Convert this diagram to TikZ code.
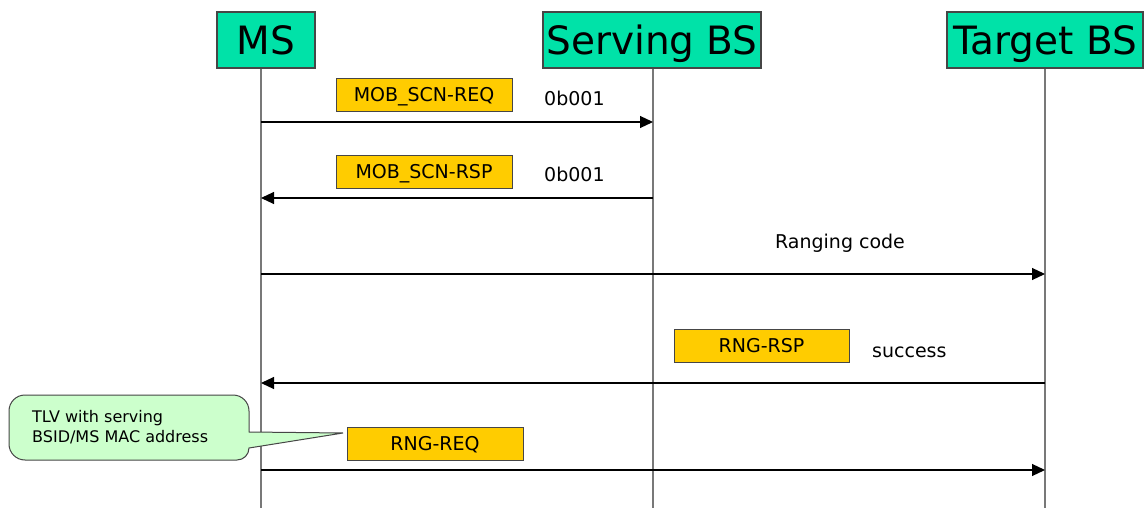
\documentclass[tikz,border=0pt]{standalone}
\usepackage{fontspec}
\setmainfont{DejaVu Sans}
\usetikzlibrary{arrows.meta}
\definecolor{hdr}{RGB}{0,226,168}
\definecolor{ylw}{RGB}{255,204,0}
\definecolor{notefill}{RGB}{204,255,204}
\definecolor{lgray}{RGB}{120,120,120}
\definecolor{bord}{RGB}{70,70,70}
\begin{document}
\begin{tikzpicture}[x=1pt,y=-1pt,
  hdrbox/.style={draw=bord,line width=1.2pt,fill=hdr,inner sep=0pt,
    font=\fontsize{39}{44}\selectfont,text height=29pt,text depth=0pt,minimum height=56pt},
  msgbox/.style={draw=bord,line width=0.9pt,fill=ylw,inner sep=0pt,
    font=\fontsize{19}{23}\selectfont,text height=14pt,text depth=0pt,
    minimum width=176pt,minimum height=33pt},
  lbl/.style={font=\fontsize{19}{23}\selectfont,inner sep=0pt},
  life/.style={draw=lgray,line width=1.4pt},
  msg/.style={draw=black,line width=1.1pt,-{Triangle[length=13pt,width=12pt]}}]
\useasboundingbox[fill=white] (0,0) rectangle (1144,508);

% lifelines
\coordinate (msT) at (261,68);  \coordinate (msB) at (261,508);
\coordinate (svT) at (653,68);  \coordinate (svB) at (653,508);
\coordinate (tgT) at (1045,68); \coordinate (tgB) at (1045,508);
\draw[life] (msT) -- (msB);
\draw[life] (svT) -- (svB);
\draw[life] (tgT) -- (tgB);

% headers
\node[hdrbox,minimum width=98pt] (ms) at (266,40) {MS};
\node[hdrbox,minimum width=218pt] (sv) at (652,40) {Serving BS};
\node[hdrbox,minimum width=196pt] (tg) at (1045,40) {Target BS};

% message points
\coordinate (m1a) at (261,122); \coordinate (m1b) at (653,122);
\coordinate (m2a) at (653,198); \coordinate (m2b) at (261,198);
\coordinate (m3a) at (261,274); \coordinate (m3b) at (1045,274);
\coordinate (m4a) at (1045,383); \coordinate (m4b) at (261,383);
\coordinate (m5a) at (261,470); \coordinate (m5b) at (1045,470);

\draw[msg] (m1a) -- (m1b);
\draw[msg] (m2a) -- (m2b);
\draw[msg] (m3a) -- (m3b);
\draw[msg] (m4a) -- (m4b);
\draw[msg] (m5a) -- (m5b);

% message labels
\node[msgbox] (req) at (424,94.5) {MOB\_SCN-REQ};
\node[lbl,anchor=base west] (p1) at (544,106) {0b001};
\node[msgbox] (rsp) at (424,171.5) {MOB\_SCN-RSP};
\node[lbl,anchor=base west] (p2) at (544,182) {0b001};
\node[lbl,anchor=base] (rc) at (840,248) {Ranging code};
\node[msgbox,minimum width=175pt] (rngrsp) at (761.5,345.5) {RNG-RSP};
\node[lbl,anchor=base west] (succ) at (872,357) {success};
\node[msgbox] (rngreq) at (435,443.5) {RNG-REQ};

% callout
\draw[draw=bord,line width=1pt,fill=notefill]
  (249,432) -- (343,433) -- (249,448)
  arc[start angle=0,end angle=90,radius=12] -- (25,460)
  arc[start angle=90,end angle=180,radius=16] -- (9,411)
  arc[start angle=180,end angle=270,radius=16] -- (233,395)
  arc[start angle=270,end angle=360,radius=16] -- cycle;
\node[font=\fontsize{16}{20}\selectfont,align=left,anchor=west,inner sep=0pt] (note) at (32,427)
  {TLV with serving\\BSID/MS MAC address};
\end{tikzpicture}
\end{document}
